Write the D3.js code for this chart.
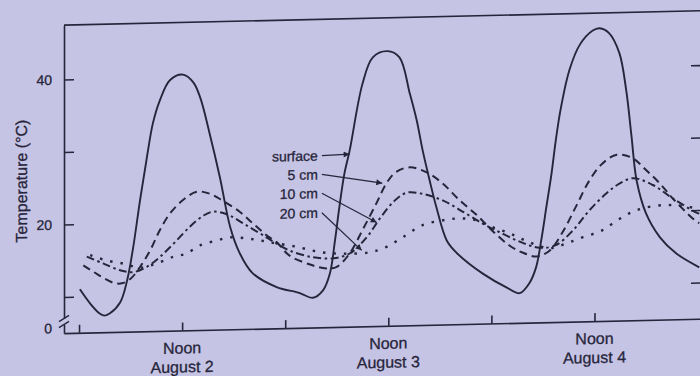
<!DOCTYPE html>
<html>
<head>
<meta charset="utf-8">
<script src="https://cdn.jsdelivr.net/npm/d3@7"></script>
<style>
  body { margin: 0; background: #c6c4e4; }
  #wrapper { width: 700px; height: 376px; overflow: hidden; }
  text { font-family: "Liberation Sans", Arial, sans-serif; fill: #26253b; stroke: #26253b; stroke-width: 0.3px; }
</style>
</head>
<body>
<div id="wrapper"></div>
<script>
// soil temperature, hours after midnight of August 2 -> degrees C
const surfaceHours = [0.1, 1.3, 2.4, 3.0, 3.6, 4.8, 5.6, 6.3, 7.1, 7.9, 8.6, 9.4, 10.6, 12.1, 13.3, 14.1, 15.2, 16.4, 17.6, 18.7, 20.2, 23.0, 25.7, 27.2, 28.4, 29.2, 29.8, 30.3, 30.9, 31.5, 33.0, 34.2, 35.9, 37.3, 38.5, 39.3, 40.0, 40.8, 41.6, 42.8, 44.0, 47.0, 49.8, 51.3, 52.4, 53.2, 53.8, 54.4, 55.0, 55.5, 56.1, 57.1, 58.3, 59.8, 60.6, 61.7, 62.9, 63.7, 64.3, 64.9, 66.0, 67.6, 69.5, 72.2]
const surfaceTemps = [11.0, 9.0, 7.6, 7.3, 7.6, 9.1, 12.1, 16.6, 23.1, 29.0, 33.7, 36.8, 39.6, 40.3, 39.2, 37.1, 32.1, 26.0, 19.1, 15.5, 12.7, 10.7, 9.8, 9.1, 10.1, 12.4, 17.0, 21.5, 26.2, 29.3, 38.5, 42.1, 42.9, 42.0, 37.0, 33.3, 29.1, 25.0, 21.2, 16.6, 14.8, 11.9, 9.9, 9.1, 10.4, 12.6, 16.3, 20.9, 25.5, 30.1, 34.6, 39.8, 43.2, 45.1, 45.4, 44.7, 41.9, 36.7, 30.5, 24.3, 19.7, 16.4, 14.1, 12.1]

const cm5Hours = [0.5, 1.7, 4.0, 5.0, 6.0, 7.1, 8.3, 9.4, 10.6, 12.1, 13.7, 15.2, 16.7, 18.7, 20.2, 21.8, 23.0, 24.5, 26.9, 28.8, 30.0, 31.5, 33.0, 34.6, 35.8, 36.9, 38.5, 40.4, 42.3, 44.3, 46.3, 48.1, 50.1, 51.6, 53.3, 54.8, 56.3, 57.9, 59.4, 60.9, 62.6, 64.4, 66.0, 67.6, 69.1, 71.4, 72.2]
const cm5Temps = [14.3, 13.35, 11.8, 11.7, 12.3, 13.9, 16.2, 18.9, 21.2, 23.0, 24.1, 23.8, 22.8, 21.2, 19.6, 17.9, 16.9, 15.0, 13.7, 13.1, 13.3, 15.1, 18.3, 21.9, 24.7, 26.2, 26.8, 26.1, 24.5, 22.1, 20.0, 17.8, 15.7, 14.7, 14.1, 14.9, 17.4, 21.0, 24.4, 26.7, 27.9, 27.4, 25.7, 23.8, 21.7, 18.9, 18.2]

const cm10Hours = [0.9, 2.8, 4.8, 6.3, 7.9, 9.4, 11.0, 12.9, 14.5, 15.6, 17.2, 19.5, 21.8, 23.0, 24.5, 27.2, 29.6, 31.5, 33.5, 35.0, 36.6, 38.1, 40.0, 42.4, 44.7, 47.0, 48.9, 51.3, 53.6, 55.5, 57.5, 59.4, 61.4, 62.9, 64.5, 66.8, 69.1, 71.8, 72.2]
const cm10Temps = [15.5, 14.5, 13.5, 13.2, 13.9, 15.2, 17.0, 19.3, 20.8, 21.3, 20.9, 19.3, 17.6, 16.7, 15.7, 14.7, 14.5, 15.1, 17.3, 19.8, 22.1, 23.3, 23.1, 22.1, 20.5, 18.8, 17.6, 16.2, 15.3, 15.6, 17.6, 20.3, 22.6, 23.9, 24.6, 23.6, 21.7, 19.7, 19.5]

const cm20Hours = [1.3, 3.2, 5.2, 7.1, 9.0, 11.0, 12.5, 14.1, 16.0, 17.6, 19.5, 21.0, 22.6, 25.3, 28.0, 30.7, 33.8, 35.8, 37.7, 40.0, 42.4, 44.3, 46.2, 48.1, 50.1, 52.4, 54.8, 56.7, 58.6, 60.9, 62.6, 64.1, 65.6, 67.9, 70.2, 72.2]
const cm20Temps = [15.7, 14.9, 14.4, 13.8, 14.3, 15.2, 15.6, 16.7, 17.3, 17.7, 17.5, 17.2, 16.8, 16.2, 15.4, 15.1, 15.2, 15.9, 17.2, 18.8, 19.4, 19.6, 19.3, 18.3, 17.4, 16.1, 15.2, 15.8, 16.6, 17.5, 18.8, 19.8, 20.4, 20.8, 20.6, 20.2]

const seriesNames = ["surface", "5 cm", "10 cm", "20 cm"]

// axis ticks
const xTickHours = [0, 12, 24, 36, 48, 60]
const noonHours = [12, 36, 60]
const dayLabels = ["August 2", "August 3", "August 4"]
const yTickValues = [10, 20, 30, 40]
const yTickLabels = ["", "20", "", "40"]

// where the depth labels sit and where their arrows point (hour, °C)
const labelHour = 27.8
const labelTemps = [28.7, 26.1, 23.5, 20.8]
const arrowHours = [31.5, 35.3, 34.65, 32.9]
const arrowTemps = [28.8, 24.7, 19.3, 15.5]

function drawChart() {
  const ink = "#26253b"
  const paper = "#c6c4e4"

  let dimensions = {
    width: 700,
    height: 376,
    margin: { top: 18, right: -1, bottom: 50, left: 64 }
  }
  dimensions.boundedWidth = dimensions.width
    - dimensions.margin.left
    - dimensions.margin.right
  dimensions.boundedHeight = dimensions.height
    - dimensions.margin.top
    - dimensions.margin.bottom

  const wrapper = d3.select("#wrapper")
    .append("svg")
      .attr("width", dimensions.width)
      .attr("height", dimensions.height)

  wrapper.append("rect")
    .attr("width", dimensions.width)
    .attr("height", dimensions.height)
    .attr("fill", paper)

  // arrowhead for the depth labels
  wrapper.append("defs").append("marker")
    .attr("id", "arrow")
    .attr("viewBox", "0 0 10 10")
    .attr("refX", 10)
    .attr("refY", 5)
    .attr("markerUnits", "userSpaceOnUse")
    .attr("markerWidth", 8)
    .attr("markerHeight", 6)
    .attr("orient", "auto")
    .append("path")
      .attr("d", "M0,0 L10,5 L0,10 z")
      .attr("fill", ink)

  // the scanned page is a bit tilted
  const page = wrapper.append("g")
    .attr("transform", "translate(380,180) skewY(-1.3) translate(-380,-180)")

  const bounds = page.append("g")
    .attr("transform", `translate(${dimensions.margin.left},${dimensions.margin.top})`)

  const xScale = d3.scaleLinear()
    .domain([-1.75, 72.4])
    .range([0, dimensions.boundedWidth])

  const yScale = d3.scaleLinear()
    .domain([5, 47.5])
    .range([dimensions.boundedHeight, 0])

  // lines
  const lineGenerator = d3.line()
    .x(d => xScale(d[0]))
    .y(d => yScale(d[1]))
    .curve(d3.curveCatmullRom.alpha(0.5))

  const series = [
    d3.zip(surfaceHours, surfaceTemps),
    d3.zip(cm5Hours, cm5Temps),
    d3.zip(cm10Hours, cm10Temps),
    d3.zip(cm20Hours, cm20Temps)
  ]
  const dashes = [null, "8 5", "8 3.5 2.5 3.5", "2.5 8"]
  const widths = [1.9, 2, 2, 2.4]

  bounds.append("g")
    .selectAll("path")
    .data(series)
    .join("path")
      .attr("d", lineGenerator)
      .attr("fill", "none")
      .attr("stroke", ink)
      .attr("stroke-width", (d, i) => widths[i])
      .attr("stroke-dasharray", (d, i) => dashes[i])

  // axes
  const yAxis = bounds.append("g")
    .call(d3.axisLeft(yScale)
      .tickValues(yTickValues)
      .tickSize(-10)
      .tickSizeOuter(0)
      .tickPadding(12)
      .tickFormat((d, i) => yTickLabels[i]))

  const yAxisRight = bounds.append("g")
    .attr("transform", `translate(${dimensions.boundedWidth},0)`)
    .call(d3.axisRight(yScale)
      .tickValues(yTickValues)
      .tickSize(-10)
      .tickSizeOuter(0)
      .tickFormat(""))

  const xAxis = bounds.append("g")
    .attr("transform", `translate(0,${dimensions.boundedHeight})`)
    .call(d3.axisBottom(xScale)
      .tickValues(xTickHours)
      .tickSize(-8)
      .tickSizeOuter(0)
      .tickFormat(""))

  ;[yAxis, yAxisRight, xAxis].forEach(axis => {
    axis.selectAll("path, line")
      .attr("stroke", ink)
      .attr("stroke-width", 1.6)
    axis.selectAll("text")
      .style("font-family", null)
      .style("font-size", "14px")
      .attr("fill", ink)
  })

  // frame top
  bounds.append("line")
    .attr("x1", 0)
    .attr("x2", dimensions.boundedWidth)
    .attr("y1", 0)
    .attr("y2", 0)
    .attr("stroke", ink)
    .attr("stroke-width", 1.6)

  // axis break near zero
  const breakY = yScale(6.6)
  bounds.append("rect")
    .attr("x", -3)
    .attr("y", breakY - 3)
    .attr("width", 6)
    .attr("height", 6)
    .attr("fill", paper)
  bounds.selectAll(".break")
    .data([-3, 3])
    .join("line")
      .attr("x1", -5)
      .attr("x2", 5)
      .attr("y1", d => breakY + d + 3)
      .attr("y2", d => breakY + d - 3)
      .attr("stroke", ink)
      .attr("stroke-width", 1.4)

  bounds.append("text")
    .attr("x", -12)
    .attr("y", dimensions.boundedHeight - 5)
    .attr("dy", "0.35em")
    .style("text-anchor", "end")
    .style("font-size", "14px")
    .text("0")

  // noon labels
  const noonGroups = bounds.append("g")
    .selectAll("text")
    .data(noonHours)
    .join("text")
      .attr("x", d => xScale(d))
      .attr("y", dimensions.boundedHeight + 23)
      .style("text-anchor", "middle")
      .style("font-size", "16px")
  noonGroups.append("tspan")
    .attr("x", d => xScale(d))
    .text("Noon")
  noonGroups.append("tspan")
    .attr("x", d => xScale(d))
    .attr("dy", 19)
    .text((d, i) => dayLabels[i])

  // y axis label
  bounds.append("text")
    .attr("transform", `translate(${-43},${173 - dimensions.margin.top}) rotate(-90)`)
    .attr("dy", "0.35em")
    .style("text-anchor", "middle")
    .style("font-size", "16px")
    .text("Temperature (°C)")

  // depth labels with arrows
  bounds.append("g")
    .selectAll("text")
    .data(seriesNames)
    .join("text")
      .attr("x", xScale(labelHour))
      .attr("y", (d, i) => yScale(labelTemps[i]))
      .attr("dy", "0.35em")
      .style("text-anchor", "end")
      .style("font-size", "14px")
      .text(d => d)

  bounds.append("g")
    .selectAll("line")
    .data(seriesNames)
    .join("line")
      .attr("x1", xScale(labelHour) + 4)
      .attr("y1", (d, i) => yScale(labelTemps[i]))
      .attr("x2", (d, i) => xScale(arrowHours[i]))
      .attr("y2", (d, i) => yScale(arrowTemps[i]))
      .attr("stroke", ink)
      .attr("stroke-width", 1.2)
      .attr("marker-end", "url(#arrow)")
}

drawChart()
</script>
</body>
</html>
